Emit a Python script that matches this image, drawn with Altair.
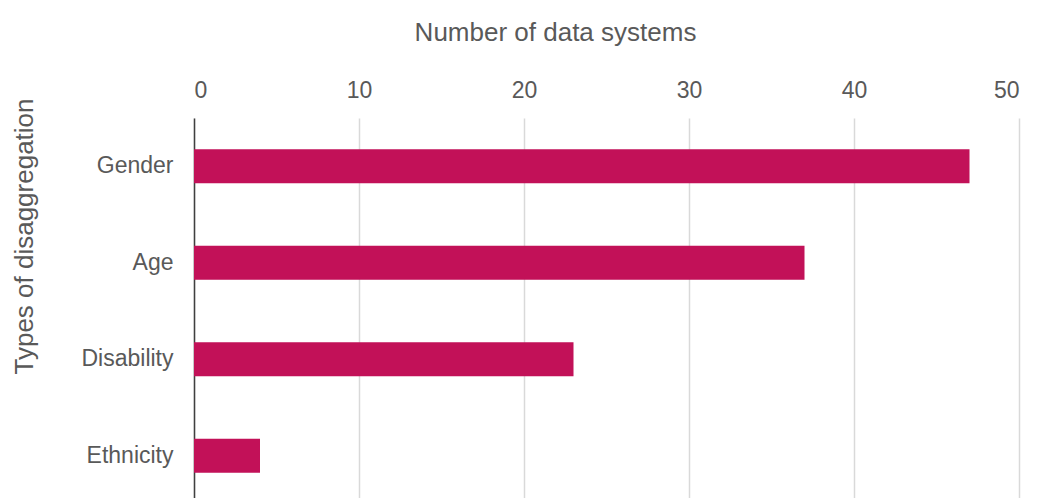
import altair as alt
import pandas as pd

categories = ["Gender", "Age", "Disability", "Ethnicity"]
values = [47, 37, 23, 4]

df = pd.DataFrame({"type": categories, "count": values})

FONT = "Arial, Liberation Sans, sans-serif"
GREY = "#595959"

chart = alt.Chart(df).mark_bar(color="#C21158").encode(
    x=alt.X(
        "count:Q",
        scale=alt.Scale(domain=[0, 50]),
        axis=alt.Axis(
            orient="top",
            title="Number of data systems",
            values=[0, 10, 20, 30, 40, 50],
            grid=True,
            gridColor="#D9D9D9",
            gridWidth=1.5,
            domain=False,
            ticks=False,
            labelFont=FONT,
            labelFontSize=23,
            labelColor=GREY,
            labelPadding=16,
            titleFont=FONT,
            titleFontSize=26,
            titleFontWeight="normal",
            titleColor=GREY,
            titleAlign="center",
            titleBaseline="alphabetic",
            titleX=361,
            titleY=-78,
        ),
    ),
    y=alt.Y(
        "type:N",
        sort=categories,
        scale=alt.Scale(paddingInner=0.647, paddingOuter=0.3235),
        axis=alt.Axis(
            title="Types of disaggregation",
            domain=True,
            domainColor="#404040",
            domainWidth=1.5,
            ticks=False,
            labelFont=FONT,
            labelFontSize=23,
            labelColor=GREY,
            labelPadding=21,
            titleFont=FONT,
            titleFontSize=26,
            titleFontWeight="normal",
            titleColor=GREY,
            titleAlign="center",
            titleBaseline="alphabetic",
            titleAngle=270,
            titleX=-162,
            titleY=118,
        ),
    ),
).properties(
    width=825,
    height=386,
    autosize=alt.AutoSizeParams(type="none"),
    padding={"left": 194, "top": 118, "right": 18, "bottom": 0},
).configure_view(stroke=None)

chart.save("out.html", embed_options={"renderer": "svg", "actions": False})
